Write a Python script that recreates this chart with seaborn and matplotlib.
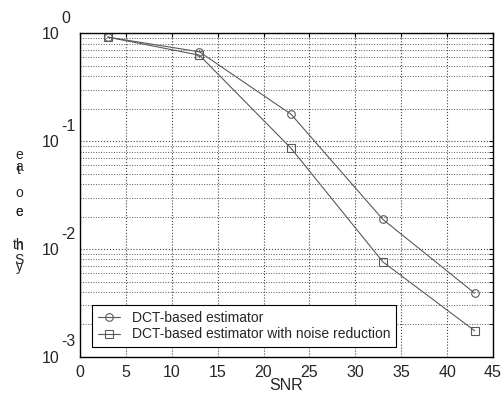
import numpy as np
import pandas as pd
import seaborn as sns
import matplotlib
matplotlib.use("Agg")
from matplotlib import pyplot as plt
from matplotlib.ticker import LogLocator, NullFormatter, FixedFormatter
from matplotlib.transforms import ScaledTranslation

# values
snr = [3, 13, 23, 33, 43]
dct = [0.918, 0.671, 0.177, 0.0188, 0.0039]
dct_nr = [0.918, 0.625, 0.0856, 0.0076, 0.00175]
labels = ["DCT-based estimator", "DCT-based estimator with noise reduction"]
ytick_vals = [1e-3, 1e-2, 1e-1, 1e0]
ytick_exps = ["-3", "-2", "-1", "0"]

sns.set_style("white")
plt.rcParams['font.family'] = ['Liberation Sans', 'DejaVu Sans']

df = pd.DataFrame({
    "SNR": snr * 2,
    "val": dct + dct_nr,
    "method": [labels[0]] * len(snr) + [labels[1]] * len(snr),
})

fig = plt.figure(figsize=(5.04, 3.96), dpi=100)
ax = fig.add_axes([0.1587, 0.0985, 0.8195, 0.818])

sns.lineplot(data=df, x="SNR", y="val", hue="method", style="method",
             markers=["o", "s"], dashes=False, palette=["#5a5a5a", "#5a5a5a"],
             markersize=5.5, markerfacecolor="none", markeredgecolor="#5a5a5a",
             markeredgewidth=0.8, linewidth=0.8, ax=ax)

ax.set_yscale("log")
ax.set_xlim(0, 45)
ax.set_ylim(1e-3, 1)
ax.set_xticks(range(0, 46, 5))
ax.set_yticks(ytick_vals)
ax.yaxis.set_major_formatter(FixedFormatter(["10"] * len(ytick_vals)))
ax.yaxis.set_minor_locator(LogLocator(base=10, subs=np.arange(2, 10), numticks=10))
ax.yaxis.set_minor_formatter(NullFormatter())

ax.grid(True, which="major", color="#444444", linestyle=":", linewidth=0.8)
ax.grid(True, which="minor", axis="y", color="#555555", linestyle=":", linewidth=0.7)
ax.tick_params(axis="both", which="both", direction="in", labelsize=11.5,
               right=True, top=True, length=3, color="black")
ax.tick_params(axis="y", which="major", pad=15)
ax.tick_params(axis="x", which="major", pad=6)
for s in ax.spines.values():
    s.set_color("black")
    s.set_linewidth(1.0)

# exponents of the y tick labels, raised like the source
off = ScaledTranslation(0, 15 / 100, fig.dpi_scale_trans)
for v, e in zip(ytick_vals, ytick_exps):
    ax.text(-0.046, v, e, transform=ax.get_yaxis_transform() + off, fontsize=11.5,
            ha="left", va="center", clip_on=False)

ax.set_xlabel("SNR", fontsize=11.5, labelpad=-2)
ax.set_ylabel("")

# garbled vertical label as in the source image
for ypos, txt in [(0.609, "e"), (0.578, "a"), (0.571, "t"), (0.513, "o"), (0.465, "e"),
                  (0.464, "c"), (0.381, "th"), (0.380, "n"), (0.343, "S"), (0.325, "y")]:
    fig.text(0.038, ypos, txt, fontsize=10, ha="center", va="center")

leg = ax.legend(loc="lower left", bbox_to_anchor=(0.029, 0.031), fontsize=10,
                frameon=True, fancybox=False, edgecolor="black", framealpha=1,
                handlelength=1.65, handletextpad=0.8, borderpad=0.4,
                labelspacing=0.2, borderaxespad=0)
leg.get_frame().set_linewidth(0.8)

fig.savefig("out.png", dpi=100)
